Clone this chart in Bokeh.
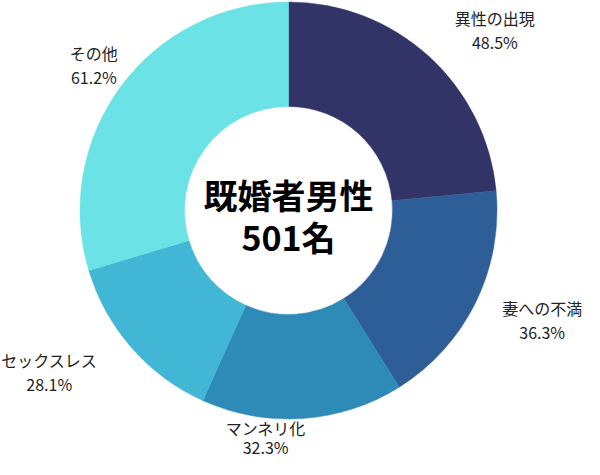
import math
from bokeh.plotting import figure
from bokeh.models import ColumnDataSource, Range1d
from bokeh.core.properties import value
from bokeh.embed import file_html
from bokeh.resources import INLINE

# ---- data ----
categories = ["異性の出現", "妻への不満", "マンネリ化", "セックスレス", "その他"]
values = [48.5, 36.3, 32.3, 28.1, 61.2]
pct_labels = ["48.5%", "36.3%", "32.3%", "28.1%", "61.2%"]
center_title = ["既婚者男性", "501名"]

# ---- style ----
colors = ["#323468", "#2E5E98", "#2E8BB8", "#42B7D5", "#6BE3E6"]
FONT = "Noto Sans CJK JP"
R_OUT = 208.5
R_IN = 104
LABEL_R = 265
# small layout nudges of the outside labels (pixels)
label_dx = [28, 16, -41, -40, 18]
label_dy = [-16, 8, 37.5, 13, -13]
half_gap = [12, 12, 9.75, 12, 12]

total = sum(values)
starts, ends, mids = [], [], []
cum = 0.0
for v in values:
    a0 = math.pi / 2 - cum / total * 2 * math.pi
    cum += v
    a1 = math.pi / 2 - cum / total * 2 * math.pi
    starts.append(a0)
    ends.append(a1)
    mids.append((a0 + a1) / 2)

src = ColumnDataSource(dict(start=starts, end=ends, color=colors))

p = figure(width=584, height=459, output_backend="svg", toolbar_location=None,
           x_axis_type=None, y_axis_type=None, min_border=0,
           x_range=Range1d(-288, 296), y_range=Range1d(-249, 210))
p.outline_line_color = None
p.background_fill_color = "white"
p.border_fill_color = "white"

p.annular_wedge(x=0, y=0, inner_radius=R_IN, outer_radius=R_OUT,
                start_angle="start", end_angle="end", direction="clock",
                fill_color="color", line_color="color", line_width=0.5, source=src)

lx = [LABEL_R * math.cos(m) + dx for m, dx in zip(mids, label_dx)]
ly = [LABEL_R * math.sin(m) + dy for m, dy in zip(mids, label_dy)]

p.text(x=lx, y=[y + g for y, g in zip(ly, half_gap)], text=categories,
       text_font=value(FONT), text_font_size="16px", text_color="#222222",
       text_align="center", text_baseline="middle")
p.text(x=lx, y=[y - g for y, g in zip(ly, half_gap)], text=pct_labels,
       text_font=value(FONT), text_font_size="16px", text_color="#222222",
       text_align="center", text_baseline="middle")

p.text(x=[0, 0], y=[16, -26], text=center_title, text_font=value(FONT),
       text_font_size="34px", text_font_style="bold", text_color="#000000",
       text_align="center", text_baseline="middle")

open("out.html", "w").write(file_html(p, INLINE))
